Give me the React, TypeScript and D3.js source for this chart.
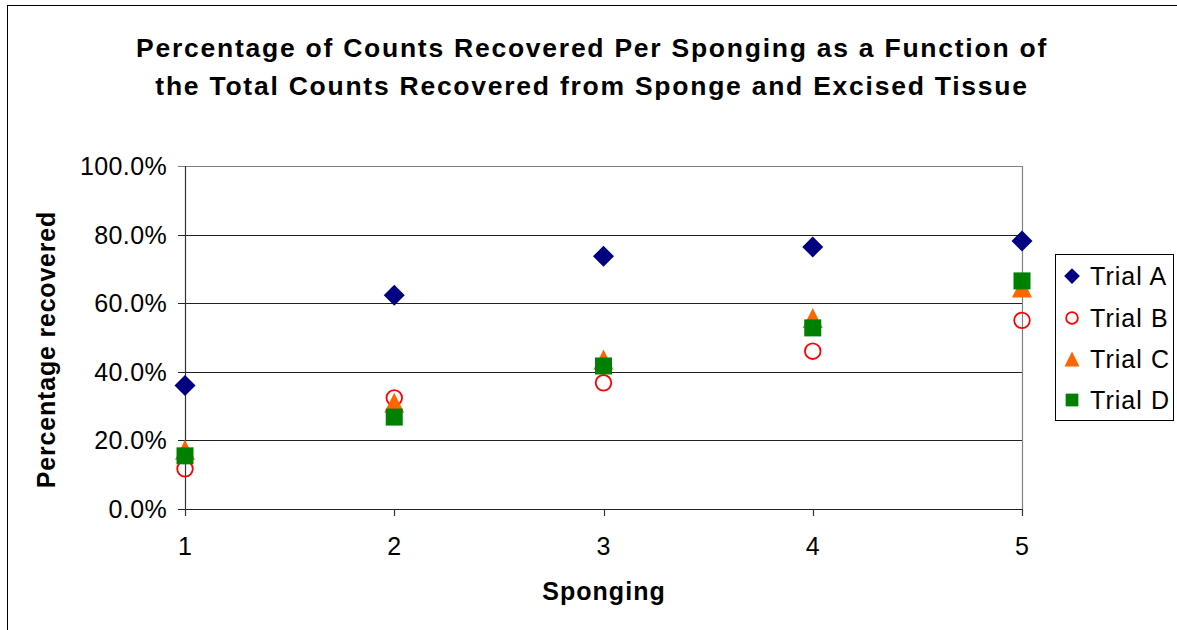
import React from "react";
import * as d3 from "d3";

const spongings = [1, 2, 3, 4, 5];
const trialA = [0.36, 0.623, 0.737, 0.764, 0.781];
const trialB = [0.117, 0.324, 0.368, 0.46, 0.55];
const trialC = [0.173, 0.31, 0.436, 0.557, 0.646];
const trialD = [0.155, 0.268, 0.417, 0.528, 0.665];
const yTicks = [0, 0.2, 0.4, 0.6, 0.8, 1.0];
const seriesNames = ["Trial A", "Trial B", "Trial C", "Trial D"];

const W = 1177;
const H = 630;
const left = 185, right = 1022, top = 166, bottom = 509;
const FONT = "'Liberation Sans', Arial, sans-serif";

function Marker({ kind, x, y, k = 1 }: { kind: string; x: number; y: number; k?: number }) {
  if (kind === "Trial A") {
    const s = 10.5 * k;
    return <path d={`M${x},${y - s}L${x + s},${y}L${x},${y + s}L${x - s},${y}Z`} fill="#000080" />;
  }
  if (kind === "Trial B") {
    return <circle cx={x} cy={y} r={7.8 * k} fill="none" stroke="#FF0000" strokeWidth={1.8} />;
  }
  if (kind === "Trial C") {
    const s = 10 * k;
    return <path d={`M${x},${y - s}L${x + s},${y + s}L${x - s},${y + s}Z`} fill="#FF6600" />;
  }
  const s = 8.5 * k;
  return <rect x={x - s} y={y - s} width={2 * s} height={2 * s} fill="#008000" />;
}

export default function App() {
  const x = d3.scaleLinear().domain([1, 5]).range([left, right]);
  const y = d3.scaleLinear().domain([0, 1]).range([bottom, top]);
  const fmt = d3.format(".1%");
  const data = [trialA, trialB, trialC, trialD];
  const legendY = [276, 318, 359, 400];

  return (
    <svg width={W} height={H} style={{ position: "absolute", left: 0, top: 0, background: "#fff" }} fontFamily={FONT}>
      <rect x={7.5} y={5.5} width={W + 10} height={H + 10} fill="#fff" stroke="#000" strokeWidth={1} />
      <text x={592} y={56.5} textAnchor="middle" fontSize={26.5} fontWeight="bold" letterSpacing={1.75}>
        Percentage of Counts Recovered Per Sponging as a Function of
      </text>
      <text x={592} y={95} textAnchor="middle" fontSize={26.5} fontWeight="bold" letterSpacing={1.75}>
        the Total Counts Recovered from Sponge and Excised Tissue
      </text>

      {yTicks.map((t) => (
        <g key={t}>
          <line x1={left - 7} x2={right} y1={Math.round(y(t)) + 0.5} y2={Math.round(y(t)) + 0.5} stroke={t === 1 ? "#808080" : "#222"} strokeWidth={1.2} />
          <text x={167} y={y(t) + 9} textAnchor="end" fontSize={25} letterSpacing={0.35}>
            {fmt(t)}
          </text>
        </g>
      ))}
      <line x1={right + 0.5} x2={right + 0.5} y1={top} y2={bottom} stroke="#808080" strokeWidth={1.2} />
      <line x1={left + 0.5} x2={left + 0.5} y1={top} y2={bottom} stroke="#333" strokeWidth={1.2} />
      {spongings.map((s) => (
        <g key={s}>
          <line x1={Math.round(x(s)) + 0.5} x2={Math.round(x(s)) + 0.5} y1={bottom} y2={bottom + 7} stroke="#333" strokeWidth={1.2} />
          <text x={x(s)} y={555} textAnchor="middle" fontSize={25}>
            {s}
          </text>
        </g>
      ))}

      {data.map((vals, i) =>
        vals.map((v, j) => <Marker key={`${i}-${j}`} kind={seriesNames[i]} x={x(spongings[j])} y={y(v)} />)
      )}

      <text x={604} y={600} textAnchor="middle" fontSize={25} fontWeight="bold" letterSpacing={1.05}>
        Sponging
      </text>
      <text transform={`translate(55,${(top + bottom) / 2 + 12}) rotate(-90)`} textAnchor="middle" fontSize={25} fontWeight="bold" letterSpacing={0.8}>
        Percentage recovered
      </text>

      <rect x={1055.5} y={254.5} width={118} height={166} fill="#fff" stroke="#000" strokeWidth={1} />
      {seriesNames.map((n, i) => (
        <g key={n}>
          <Marker kind={n} x={1072} y={legendY[i]} k={0.75} />
          <text x={1090} y={legendY[i] + 9} fontSize={25} letterSpacing={1.05}>
            {n}
          </text>
        </g>
      ))}
    </svg>
  );
}
